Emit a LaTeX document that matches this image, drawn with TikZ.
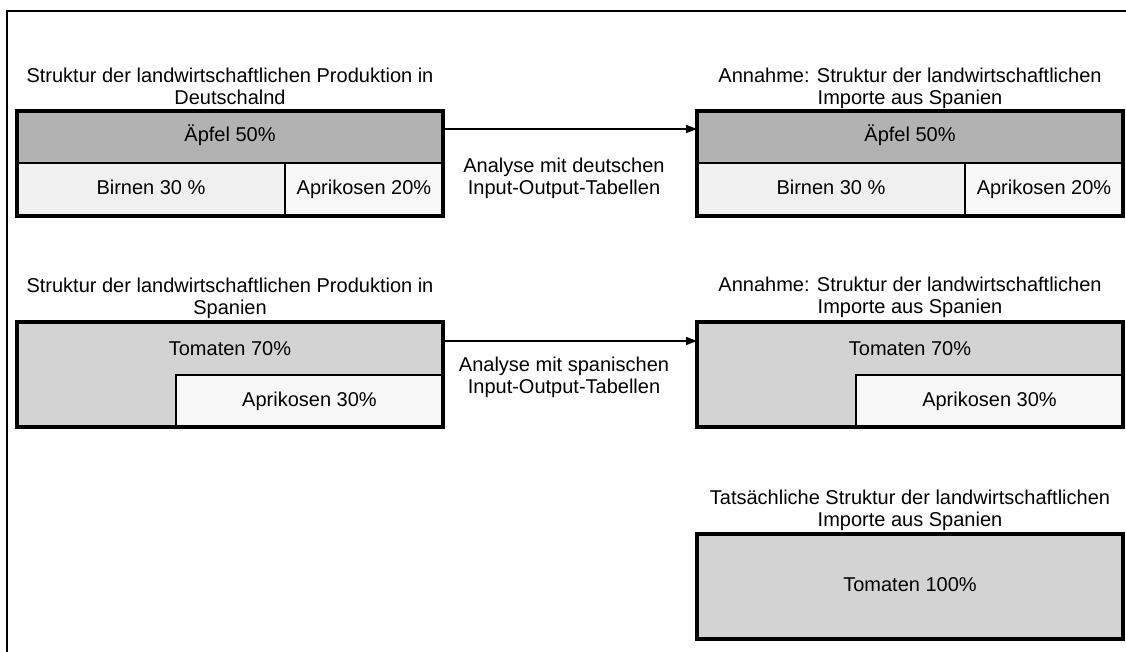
\documentclass[tikz,border=0pt]{standalone}
\usepackage{fontspec}
\setmainfont{Liberation Sans}
\usetikzlibrary{arrows.meta}

\definecolor{apfelgrau}{HTML}{B2B2B2}
\definecolor{tomatengrau}{HTML}{D3D3D3}
\definecolor{birnenhell}{HTML}{F0F0F0}
\definecolor{aprikosenhell}{HTML}{F8F8F8}

\begin{document}
\begin{tikzpicture}[x=1pt, y=-1pt,
    every node/.style={font=\fontsize{20}{22}\selectfont, inner sep=0pt, outer sep=0pt},
    cell/.style={draw, line width=1.5pt, text height=14pt, text depth=4pt},
    frame/.style={line width=3.5pt},
    title/.style={align=center, anchor=north},
    flow/.style={line width=1.5pt, -{Triangle[length=11pt, width=8pt]}}]

    \useasboundingbox (0,0) rectangle (1126,652);

    % Outer frame
    \draw[line width=2pt] (7,670) -- (7,11) -- (1140,11);

    % Nodes: Deutschland
    \node[cell, fill=apfelgrau, minimum width=426pt, minimum height=52pt] (DLtop) at (230,137) {Äpfel 50\%};
    \node[cell, fill=birnenhell, minimum width=268pt, minimum height=53pt] (DLbir) at (151,189.5) {Birnen 30 \%};
    \node[cell, fill=aprikosenhell, minimum width=158pt, minimum height=53pt] (DLapr) at (364,189.5) {Aprikosen 20\%};
    \draw[frame] (DLtop.north west) rectangle (DLapr.south east);

    \node[cell, fill=apfelgrau, minimum width=426pt, minimum height=52pt] (DRtop) at (910,137) {Äpfel 50\%};
    \node[cell, fill=birnenhell, minimum width=268pt, minimum height=53pt] (DRbir) at (831,189.5) {Birnen 30 \%};
    \node[cell, fill=aprikosenhell, minimum width=158pt, minimum height=53pt] (DRapr) at (1044,189.5) {Aprikosen 20\%};
    \draw[frame] (DRtop.north west) rectangle (DRapr.south east);

    % Nodes: Spanien
    \node[cell, fill=tomatengrau, minimum width=426pt, minimum height=105pt] (SLbox) at (230,374.5) {};
    \node (SLtom) at (230,348.5) {Tomaten 70\%};
    \node[cell, fill=aprikosenhell, minimum width=267pt, minimum height=52pt] (SLapr) at (309.5,401) {Aprikosen 30\%};
    \draw[frame] (SLbox.north west) rectangle (SLbox.south east);

    \node[cell, fill=tomatengrau, minimum width=426pt, minimum height=105pt] (SRbox) at (910,374.5) {};
    \node (SRtom) at (910,348.5) {Tomaten 70\%};
    \node[cell, fill=aprikosenhell, minimum width=267pt, minimum height=52pt] (SRapr) at (989.5,401) {Aprikosen 30\%};
    \draw[frame] (SRbox.north west) rectangle (SRbox.south east);

    \node[cell, frame, fill=tomatengrau, minimum width=426pt, minimum height=105pt] (TRbox) at (910,586.5) {Tomaten 100\%};

    % Titles
    \node[title] (DLtitle) at (230,68) {Struktur der landwirtschaftlichen Produktion in\\Deutschalnd};
    \node[title] (DRtitle) at (910,68) {Annahme: Struktur der landwirtschaftlichen\\Importe aus Spanien};
    \node[title] (SLtitle) at (230,278) {Struktur der landwirtschaftlichen Produktion in\\Spanien};
    \node[title] (SRtitle) at (910,277) {Annahme: Struktur der landwirtschaftlichen\\Importe aus Spanien};
    \node[title] (TRtitle) at (910,490) {Tatsächliche Struktur der landwirtschaftlichen\\Importe aus Spanien};

    % Arrows
    \draw[flow] ([yshift=8pt]DLtop.east) -- ([yshift=8pt]DLtop.east -| DRtop.west);
    \draw[flow] ([yshift=33.5pt]SLbox.east) -- ([yshift=33.5pt]SLbox.east -| SRbox.west);

    % Labels
    \node[align=center] (DLabel) at (564,178) {Analyse mit deutschen\\Input-Output-Tabellen};
    \node[align=center] (SLabel) at (564,377) {Analyse mit spanischen\\Input-Output-Tabellen};

\end{tikzpicture}
\end{document}
